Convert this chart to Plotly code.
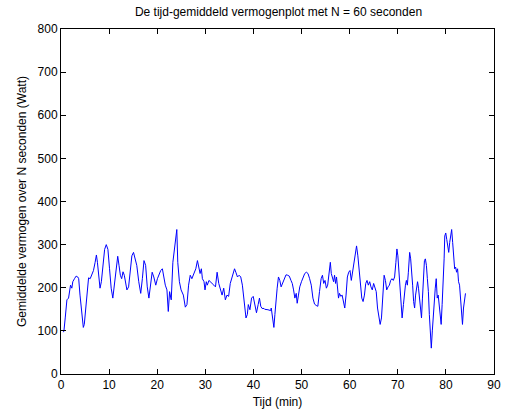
import plotly.graph_objects as go

# Tijd (minuten) en het over 60 s gemiddelde vermogen (Watt)
tijd_min = [
    0.5, 0.61, 0.88, 1.23, 1.57, 1.77, 1.98, 2.25, 2.45, 2.8, 3.14, 3.48, 3.68, 3.95, 4.29, 4.64,
    4.84, 5.18, 5.52, 5.73, 6.07, 6.41, 6.75, 7.09, 7.36, 7.57, 7.84, 8.11, 8.39, 8.73, 9.07,
    9.41, 9.75, 10.09, 10.43, 10.77, 11.11, 11.45, 11.79, 12.07, 12.34, 12.61, 12.89, 13.16,
    13.43, 13.7, 14.05, 14.39, 14.73, 15.07, 15.34, 15.75, 16.16, 16.57, 16.91, 17.25, 17.59,
    17.93, 18.27, 18.61, 18.95, 19.29, 19.7, 20.04, 20.39, 20.73, 21.07, 21.34, 21.68, 22.02,
    22.3, 22.57, 22.91, 23.25, 23.59, 23.8, 24.07, 24.27, 24.61, 24.96, 25.43, 25.84, 26.18,
    26.52, 26.86, 27.2, 27.61, 28.02, 28.36, 28.7, 28.91, 29.18, 29.39, 29.73, 29.93, 30.2,
    30.41, 30.75, 31.09, 31.43, 31.77, 32.11, 32.45, 32.79, 33.13, 33.48, 33.82, 34.16, 34.5,
    34.84, 35.18, 35.52, 35.86, 36.07, 36.34, 36.68, 37.02, 37.36, 37.7, 37.98, 38.25, 38.45,
    38.73, 38.93, 39.27, 39.61, 39.95, 40.29, 40.63, 40.98, 41.25, 41.52, 41.79, 42.2, 42.34,
    43.02, 43.57, 43.7, 43.84, 44.04, 44.25, 44.46, 44.66, 44.93, 45.2, 45.48, 45.75, 46.09,
    46.43, 46.77, 47.11, 47.45, 47.8, 48.07, 48.34, 48.61, 48.89, 49.09, 49.36, 49.63, 49.98,
    50.32, 50.66, 51.0, 51.34, 51.68, 52.02, 52.36, 52.7, 53.04, 53.38, 53.73, 54.07, 54.34,
    54.61, 54.88, 55.16, 55.43, 55.7, 55.98, 56.18, 56.38, 56.66, 56.86, 57.07, 57.27, 57.48,
    57.68, 57.89, 58.16, 58.43, 58.7, 58.98, 59.25, 59.52, 59.8, 60.07, 60.34, 60.61, 60.88,
    61.16, 61.43, 61.7, 61.98, 62.25, 62.52, 62.79, 63.07, 63.34, 63.61, 63.88, 64.16, 64.43,
    64.7, 64.98, 65.25, 65.52, 65.79, 66.07, 66.34, 66.61, 66.88, 67.16, 67.43, 67.7, 67.98,
    68.25, 68.52, 68.79, 69.07, 69.34, 69.61, 69.82, 70.02, 70.29, 70.5, 70.7, 70.9, 71.18,
    71.38, 71.59, 71.79, 71.99, 72.2, 72.34, 72.47, 72.68, 72.88, 73.09, 73.29, 73.5, 73.7,
    73.9, 74.11, 74.31, 74.52, 74.72, 74.93, 75.13, 75.33, 75.54, 75.74, 75.95, 76.15, 76.36,
    76.56, 76.77, 76.97, 77.18, 77.38, 77.59, 77.79, 77.99, 78.2, 78.4, 78.61, 78.81, 79.02,
    79.22, 79.43, 79.63, 79.77, 79.97, 80.18, 80.38, 80.59, 80.79, 81.0, 81.2, 81.41, 81.61,
    81.82, 82.02, 82.22, 82.43, 82.63, 82.84, 83.04, 83.25, 83.45, 83.66, 83.86, 84.07,
]

vermogen_w = [
    97, 100, 130, 172, 176, 187, 206, 199, 214, 221, 227, 225, 221, 183, 145, 108,
    115, 153, 202, 223, 221, 230, 240, 259, 276, 259, 221, 199, 214, 251, 289,
    300, 289, 244, 199, 176, 206, 244, 273, 251, 229, 221, 237, 229,
    206, 195, 202, 244, 274, 282, 267, 252, 214, 187, 221, 263, 252,
    202, 176, 206, 236, 225, 206, 221, 233, 240, 244, 225, 206, 195,
    145, 191, 172, 259, 289, 312, 335, 259, 214, 195, 183, 155, 161,
    206, 229, 221, 233, 244, 263, 240, 233, 244, 221, 214, 195, 214,
    206, 217, 214, 210, 206, 202, 236, 210, 195, 183, 199, 172, 183,
    180, 210, 225, 236, 244, 236, 225, 229, 225, 206, 176, 161, 130,
    138, 161, 149, 176, 180, 157, 142, 161, 176, 157, 152, 152, 150,
    149, 147, 153, 138, 123, 108, 138, 176, 199, 225, 217, 202, 210,
    221, 230, 229, 227, 217, 210, 195, 176, 187, 164, 183, 202, 214,
    225, 233, 236, 233, 221, 206, 176, 162, 159, 157, 191, 221, 229,
    210, 217, 199, 206, 240, 259, 233, 225, 214, 229, 210, 225, 191,
    176, 187, 180, 183, 168, 153, 183, 225, 236, 240, 217, 236, 259,
    282, 297, 274, 244, 206, 176, 168, 183, 210, 217, 206, 214, 202,
    195, 210, 202, 191, 153, 130, 115, 130, 168, 229, 217, 195, 202,
    206, 217, 221, 217, 225, 259, 290, 274, 221, 183, 157, 130, 161,
    191, 206, 217, 206, 236, 259, 282, 267, 244, 206, 168, 153, 183,
    206, 214, 199, 176, 145, 130, 176, 236, 263, 267, 252, 221, 191,
    138, 92, 60, 100, 138, 168, 199, 221, 176, 183, 161, 130, 115,
    161, 206, 267, 320, 327, 312, 297, 282, 305, 320, 335, 305, 274,
    244, 248, 236, 244, 214, 206, 168, 130, 115, 153, 176, 187,
]

x_ticks = [0, 10, 20, 30, 40, 50, 60, 70, 80, 90]
y_ticks = [0, 100, 200, 300, 400, 500, 600, 700, 800]

font_family = "Liberation Sans, Arial, sans-serif"

fig = go.Figure(
    go.Scatter(
        x=tijd_min,
        y=vermogen_w,
        mode="lines",
        line=dict(color="#0000ff", width=1),
        hoverinfo="skip",
    )
)

axis_style = dict(
    showgrid=False,
    zeroline=False,
    showline=True,
    linecolor="black",
    linewidth=1,
    mirror="ticks",
    ticks="inside",
    ticklen=5,
    tickcolor="black",
    tickfont=dict(family=font_family, size=12, color="black"),
)

fig.update_xaxes(
    range=[0, 90],
    tickvals=x_ticks,
    title=dict(text="Tijd (min)", font=dict(family=font_family, size=12, color="black"), standoff=6),
    **axis_style,
)
fig.update_yaxes(
    range=[0, 800],
    tickvals=y_ticks,
    title=dict(
        text="Gemiddelde vermogen over N seconden (Watt)",
        font=dict(family=font_family, size=12, color="black"),
        standoff=8,
    ),
    **axis_style,
)

fig.update_layout(
    width=511,
    height=417,
    margin=dict(l=61, r=10, t=29, b=41),
    paper_bgcolor="white",
    plot_bgcolor="white",
    showlegend=False,
    title=dict(
        text="De tijd-gemiddeld vermogenplot met N = 60 seconden",
        font=dict(family=font_family, size=12, color="black"),
        x=0.545,
        xanchor="center",
        y=0.972,
        yanchor="middle",
    ),
)

fig.write_html("out.html")
